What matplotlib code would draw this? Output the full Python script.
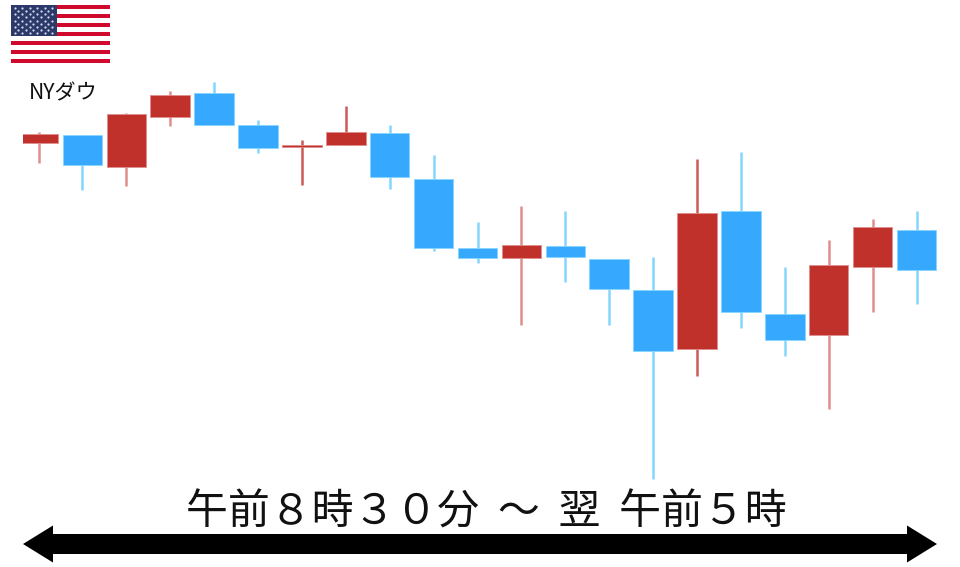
import matplotlib
matplotlib.use("Agg")
import matplotlib.pyplot as plt
from matplotlib.patches import FancyArrow, Rectangle
import numpy as np

plt.rcParams['font.family'] = ['Noto Sans CJK JP', 'DejaVu Sans']

W, H = 960, 567

# candle values (arbitrary price units, no axis shown)
body_top = [433, 432, 453, 472, 474, 442, 422, 435, 434, 388, 319, 322, 321, 308, 277, 354, 356, 253, 302, 340, 337]
body_bot = [424, 402, 400, 450, 442, 419, 420, 422, 390, 319, 309, 309, 310, 278, 216, 218, 255, 227, 232, 300, 297]
highs = [435, 432, 454, 476, 485, 447, 427, 461, 442, 412, 345, 361, 356, 308, 310, 408, 415, 300, 327, 348, 356]
lows = [404, 377, 381, 441, 442, 414, 382, 422, 378, 316, 304, 242, 285, 242, 88, 191, 239, 211, 158, 255, 263]
is_red = [1, 0, 1, 1, 0, 0, 1, 1, 0, 0, 0, 1, 0, 0, 0, 1, 0, 0, 1, 1, 0]

RED = "#c1312b"
BLUE = "#36a9ff"
RED_WICK = "#e08f8d"
BLUE_WICK = "#85d6ff"

label_nydow = "NYダウ"
label_span = "午前８時３０分  ～  翌  午前５時"

fig = plt.figure(figsize=(W / 100, H / 100), dpi=100)
bg = fig.add_axes([0, 0, 1, 1])
bg.set_xlim(0, W)
bg.set_ylim(H, 0)
bg.axis("off")

# candles, left edge of first candle is cut off at x=23
ax = fig.add_axes([23 / W, 0, (W - 23) / W, 1])
ax.set_ylim(0, H)
step = 43.9
ax.set_xlim((23 - 38.5) / step, (W - 38.5) / step)
ax.axis("off")
ax.patch.set_alpha(0)

x = np.arange(len(body_top))
for i in x:
    wick = RED_WICK if is_red[i] else BLUE_WICK
    if i in (6, 7, 15):
        wick = "#cc5a55"
    ax.vlines(i, lows[i], highs[i], color=wick, lw=1.8, zorder=2)
    ax.bar(i, body_top[i] - body_bot[i], bottom=body_bot[i], width=39.5 / step,
           color=RED if is_red[i] else BLUE, zorder=3,
           edgecolor=RED_WICK if is_red[i] else BLUE_WICK, linewidth=0.6)

# flag
flag = fig.add_axes([11 / W, 1 - 63 / H, 99 / W, 58 / H])
flag.set_xlim(0, 1)
flag.set_ylim(13, 0)
flag.axis("off")
for s in range(13):
    flag.add_patch(Rectangle((0, s), 1, 1, color="#cf0a2c" if s % 2 == 0 else "white", lw=0))
flag.add_patch(Rectangle((0, 0), 0.46, 7, color="#2b3a6b", lw=0))
sx, sy = [], []
for row in range(9):
    n = 6 if row % 2 == 0 else 5
    off = 0.04 if row % 2 == 0 else 0.075
    for c in range(n):
        sx.append(off + c * 0.075)
        sy.append(0.6 + row * 0.72)
flag.scatter(sx, sy, s=2.5, color="#d8dce8", lw=0)

bg.text(29, 93, label_nydow, fontsize=15.2, va="center", ha="left", color="#111111")
bg.text(486.5, 513, label_span, fontsize=30.2, va="center", ha="center", color="#111111")

# double arrow under the text
for start, d in ((480, -457), (480, 457)):
    bg.add_patch(FancyArrow(start, 544, d, 0, width=20, head_width=37, head_length=30,
                            length_includes_head=True, color="black", lw=0))

fig.savefig("out.png", dpi=100)
